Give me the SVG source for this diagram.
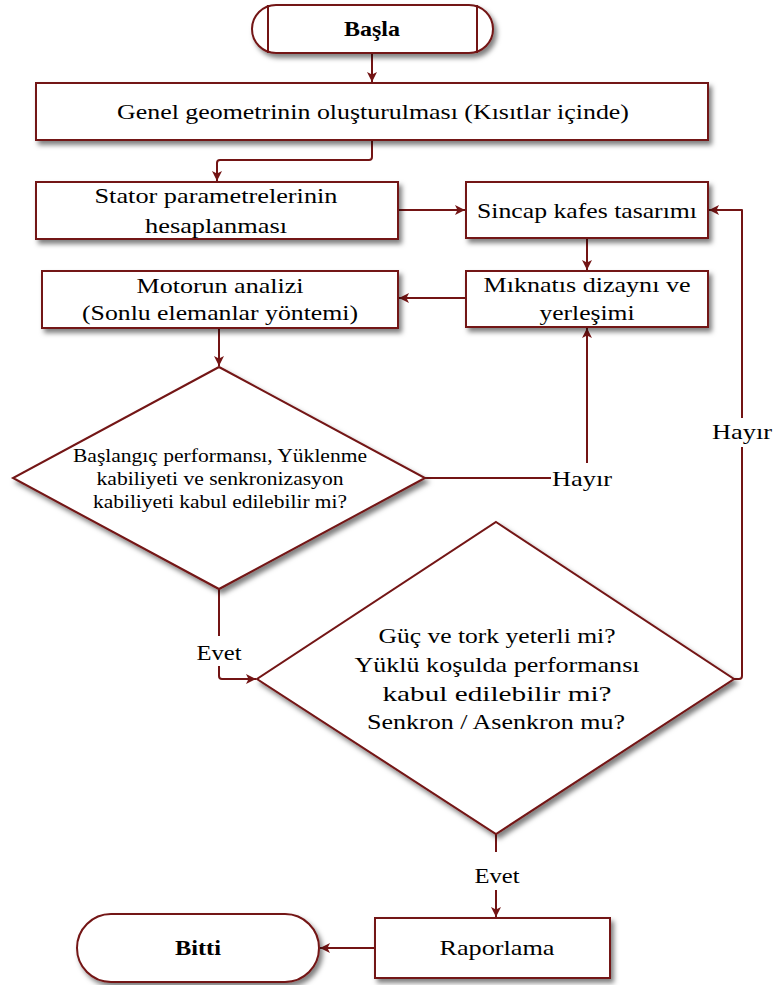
<svg xmlns="http://www.w3.org/2000/svg" width="776" height="985" viewBox="0 0 776 985">
<defs>
<filter id="sh" x="-10%" y="-10%" width="130%" height="140%">
<feDropShadow dx="3" dy="4" stdDeviation="2.5" flood-color="#000" flood-opacity="0.5"/>
</filter>
<marker id="ah" viewBox="0 0 10 10" refX="10" refY="5" markerWidth="10" markerHeight="10" markerUnits="userSpaceOnUse" orient="auto">
<path d="M0,0 L10,5 L0,10 L2.5,5 z" fill="#731414"/>
</marker>
<style>
.n{fill:#fff;stroke:#731414;stroke-width:2;filter:url(#sh)}
.l{fill:none;stroke:#731414;stroke-width:2}
.c{fill:none;stroke:#731414;stroke-width:2;stroke-linejoin:round}
.a{marker-end:url(#ah)}
text{font-family:"Liberation Serif","DejaVu Serif",serif;fill:#000;text-anchor:middle}
.t{font-size:22px}
.s{font-size:18px}
.b{font-size:21px;font-weight:bold}
</style>
</defs>
<rect width="776" height="985" fill="#fff"/>

<g id="connectors">
<path class="c a" d="M372,53 V82"/>
<path class="c a" d="M372,140 V157 Q372,160 369,160 H220 Q217,160 217,163 V181"/>
<path class="c a" d="M398,210 H465"/>
<path class="c a" d="M587,238 V270"/>
<path class="c a" d="M466,298 H399"/>
<path class="c a" d="M219,328 V366"/>
<path class="c" d="M425,478 H551"/>
<path class="c a" d="M587,463 V328"/>
<path class="c" d="M734,679 H739 Q742,679 742,676 V447"/>
<path class="c a" d="M742,418 V210 H709"/>
<path class="c" d="M219,589 V636"/>
<path class="c a" d="M219,666 V676 Q219,679 222,679 H256"/>
<path class="c" d="M496,834 V852"/>
<path class="c a" d="M496,890 V917"/>
<path class="c a" d="M375,948 H320"/>
<text class="t" x="582" y="486" textLength="60" lengthAdjust="spacingAndGlyphs">Hayır</text>
<text class="t" x="742" y="439" textLength="60" lengthAdjust="spacingAndGlyphs">Hayır</text>
<text class="t" x="219" y="660" textLength="45" lengthAdjust="spacingAndGlyphs">Evet</text>
<text class="t" x="497" y="883" textLength="45" lengthAdjust="spacingAndGlyphs">Evet</text>
</g>

<g id="basla">
<path class="n" d="M276,5 H469 A24,24 0 0 1 469,53 H276 A24,24 0 0 1 276,5 Z"/>
<path class="l" d="M268,5 V53 M477,5 V53"/>
<text class="b" x="372" y="36" textLength="56" lengthAdjust="spacingAndGlyphs">Başla</text>
</g>

<g id="genel">
<rect class="n" x="36" y="83" width="672" height="57"/>
<text class="t" x="373" y="119" textLength="512" lengthAdjust="spacingAndGlyphs">Genel geometrinin oluşturulması (Kısıtlar içinde)</text>
</g>

<g id="stator">
<rect class="n" x="36" y="182" width="362" height="57"/>
<text class="t" x="216" y="203" textLength="243" lengthAdjust="spacingAndGlyphs">Stator parametrelerinin</text>
<text class="t" x="216" y="233" textLength="142" lengthAdjust="spacingAndGlyphs">hesaplanması</text>
</g>

<g id="sincap">
<rect class="n" x="466" y="182" width="242" height="56"/>
<text class="t" x="587" y="218" textLength="220" lengthAdjust="spacingAndGlyphs">Sincap kafes tasarımı</text>
</g>

<g id="motorun">
<rect class="n" x="42" y="271" width="356" height="57"/>
<text class="t" x="220" y="293" textLength="167" lengthAdjust="spacingAndGlyphs">Motorun analizi</text>
<text class="t" x="220" y="320" textLength="276" lengthAdjust="spacingAndGlyphs">(Sonlu elemanlar yöntemi)</text>
</g>

<g id="miknatis">
<rect class="n" x="466" y="271" width="242" height="56"/>
<text class="t" x="587" y="292" textLength="207" lengthAdjust="spacingAndGlyphs">Mıknatıs dizaynı ve</text>
<text class="t" x="587" y="320" textLength="95" lengthAdjust="spacingAndGlyphs">yerleşimi</text>
</g>

<g id="karar1">
<polygon class="n" points="219,367 425,478 219,589 13,478"/>
<text class="s" x="220" y="462" textLength="294" lengthAdjust="spacingAndGlyphs">Başlangıç performansı, Yüklenme</text>
<text class="s" x="220" y="485" textLength="247" lengthAdjust="spacingAndGlyphs">kabiliyeti ve senkronizasyon</text>
<text class="s" x="220" y="508" textLength="254" lengthAdjust="spacingAndGlyphs">kabiliyeti kabul edilebilir mi?</text>
</g>

<g id="karar2">
<polygon class="n" points="496,522 734,679 496,834 257,679"/>
<text class="t" x="497" y="643" textLength="237" lengthAdjust="spacingAndGlyphs">Güç ve tork yeterli mi?</text>
<text class="t" x="497" y="672" textLength="285" lengthAdjust="spacingAndGlyphs">Yüklü koşulda performansı</text>
<text class="t" x="497" y="701" textLength="229" lengthAdjust="spacingAndGlyphs">kabul edilebilir mi?</text>
<text class="t" x="496" y="729" textLength="258" lengthAdjust="spacingAndGlyphs">Senkron / Asenkron mu?</text>
</g>

<g id="raporlama">
<rect class="n" x="375" y="918" width="235" height="60"/>
<text class="t" x="497" y="955" textLength="115" lengthAdjust="spacingAndGlyphs">Raporlama</text>
</g>

<g id="bitti">
<path class="n" d="M111,914 H285 A34,34 0 0 1 285,982 H111 A34,34 0 0 1 111,914 Z"/>
<text class="b" x="198" y="955" textLength="46" lengthAdjust="spacingAndGlyphs">Bitti</text>
</g>
</svg>
